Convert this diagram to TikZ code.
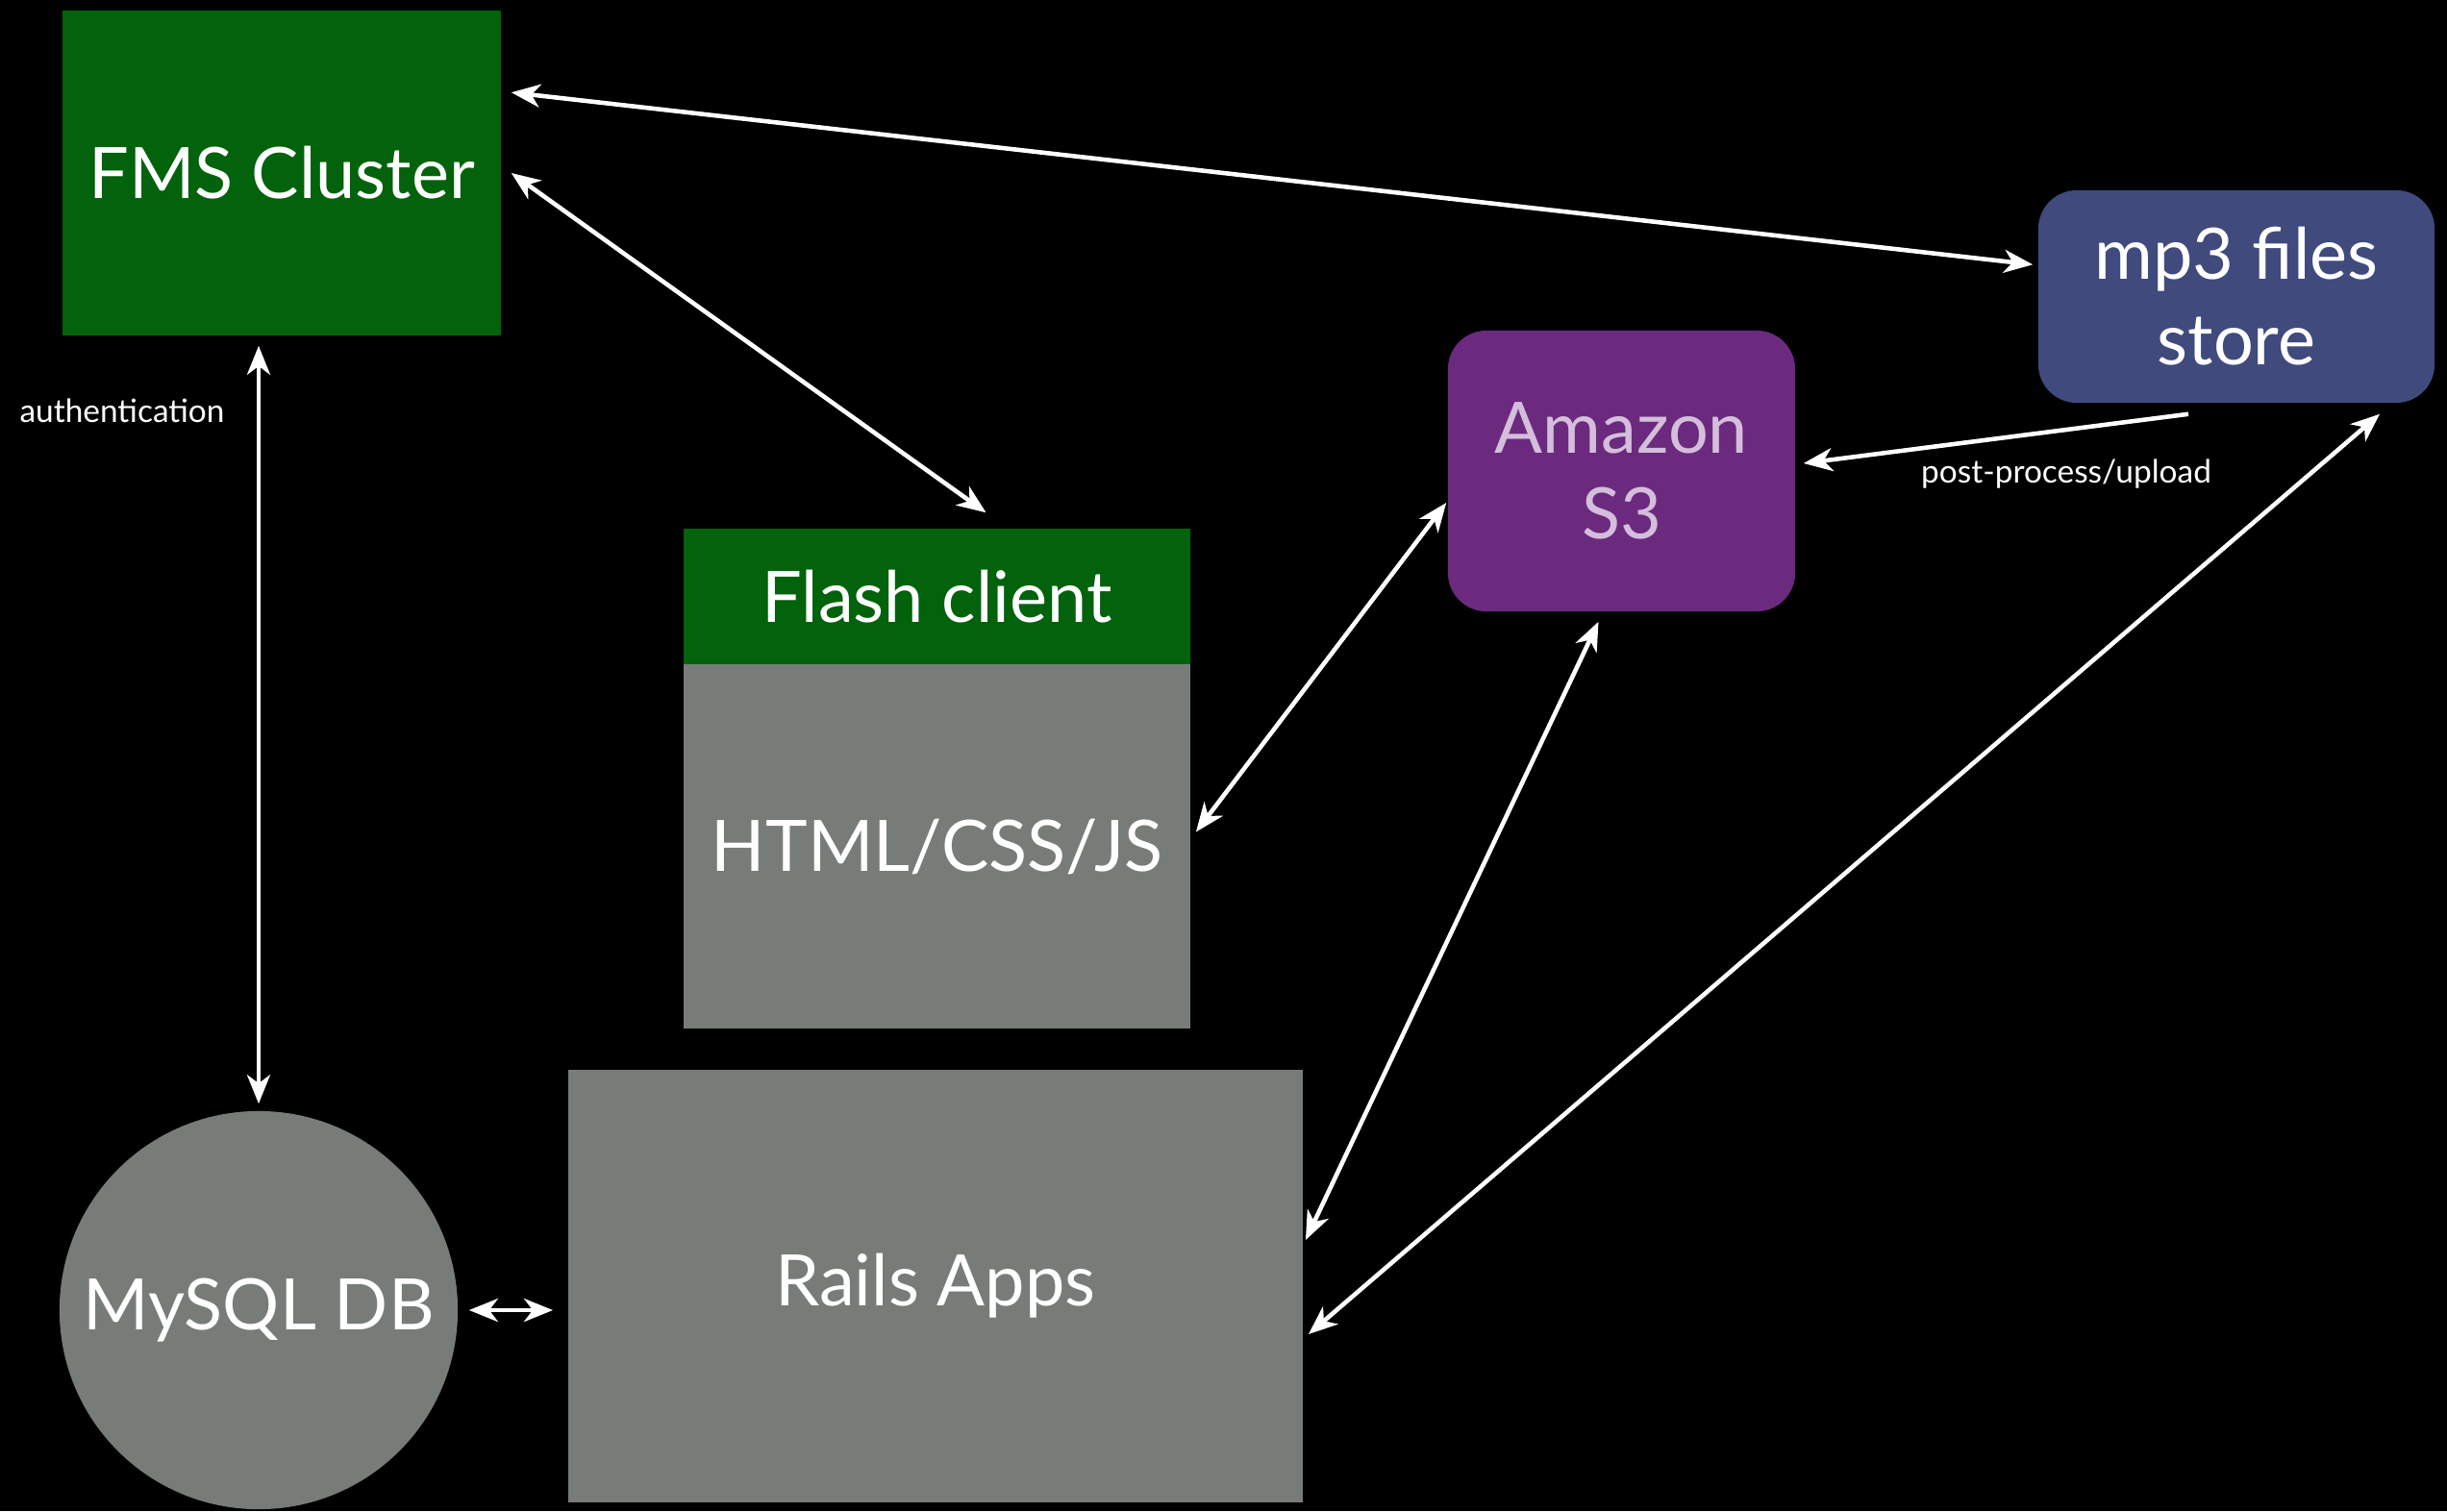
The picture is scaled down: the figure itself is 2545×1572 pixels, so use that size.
\documentclass[tikz,border=0pt]{standalone}
\usepackage{fontspec}
\setmainfont{Lato}
\usetikzlibrary{arrows.meta}

\definecolor{fmsgreen}{RGB}{3,98,12}
\definecolor{boxgray}{RGB}{120,124,120}
\definecolor{s3purple}{RGB}{107,42,126}
\definecolor{s3text}{RGB}{212,190,220}
\definecolor{storeblue}{RGB}{64,74,124}

\begin{document}
\begin{tikzpicture}[x=0.01cm, y=-0.01cm,
    every node/.style={text=white, font=\fontsize{21}{25.3}\selectfont},
    block/.style={rectangle, inner sep=0pt, align=center},
    tip/.tip={Stealth[length=0.3cm, width=0.24cm, inset=0.09cm]},
    link/.style={draw=white, line width=1.3pt, tip-tip},
    oneway/.style={draw=white, line width=1.3pt, -tip},
    note/.style={font=\fontsize{9.5}{11}\selectfont}]

    %% background, fixes the page size
    \fill[black] (0,0) rectangle (2545,1572);

    %% boxes
    \node[block, fill=fmsgreen, minimum width=4.56cm, minimum height=3.38cm] (fms) at (293,180) {FMS Cluster};
    \node[block, fill=fmsgreen, minimum width=5.27cm, minimum height=1.41cm] (flash) at (974.5,620.5) {Flash client};
    \node[block, fill=boxgray, minimum width=5.27cm, minimum height=3.79cm] (html) at (974.5,880.5) {HTML/CSS/JS};
    \node[block, fill=boxgray, minimum width=7.64cm, minimum height=4.5cm] (rails) at (973,1338) {Rails Apps};
    \node[circle, fill=boxgray, minimum size=4.14cm, inner sep=0pt] (db) at (269,1363) {MySQL DB};
    \node[block, fill=s3purple, rounded corners=0.4cm, minimum width=3.61cm, minimum height=2.92cm, text=s3text] (s3) at (1686.5,490) {Amazon\\S3};
    \node[block, fill=storeblue, rounded corners=0.4cm, minimum width=4.12cm, minimum height=2.21cm] (store) at (2326,308.5) {mp3 files\\store};

    %% connectors
    \draw[link] ([shift={(10,86)}]fms.north east) -- ([shift={(-5,78)}]store.north west);
    \draw[link] ([shift={(10,0)}]fms.east) -- ([shift={(51,-16)}]flash.north);
    \draw[link, shorten <=0.1cm, shorten >=0.07cm] (fms.south -| db.north) -- (db.north);
    \draw[link, shorten <=0.11cm, shorten >=0.15cm] (db.east) -- (db.east -| rails.west);
    \draw[link] ([shift={(5,-15)}]html.east) -- ([shift={(-1,33)}]s3.west);
    \draw[link] ([shift={(-24,10)}]s3.south) -- ([shift={(2,-48)}]rails.east);
    \draw[link] ([shift={(149,11)}]store.south) -- ([shift={(5,50)}]rails.east);
    \draw[oneway] ([shift={(-50,11)}]store.south) -- ([shift={(8,-8)}]s3.east);

    %% labels
    \node[note] (auth) at (127,427) {authentication};
    \node[note] (upload) at (2149,493) {post-process/upload};
\end{tikzpicture}
\end{document}
